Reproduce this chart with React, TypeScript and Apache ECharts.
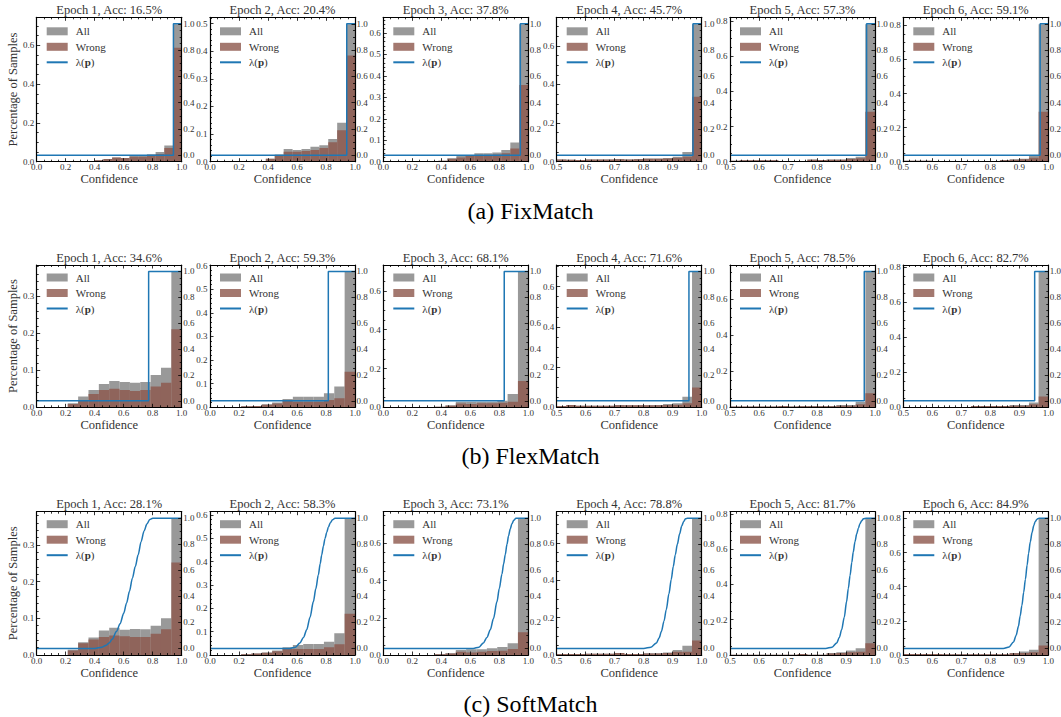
import React, { useEffect, useRef } from 'react';
import * as echarts from 'echarts';

// ---------------- data ----------------
const CAPTIONS = ['(a) FixMatch', '(b) FlexMatch', '(c) SoftMatch'];
const EPOCHS = [1, 2, 3, 4, 5, 6];
const FIX_ACC = [16.5, 20.4, 37.8, 45.7, 57.3, 59.1];
const FLEX_ACC = [34.6, 59.3, 68.1, 71.6, 78.5, 82.7];
const SOFT_ACC = [28.1, 58.3, 73.1, 78.8, 81.7, 84.9];

const X_MIN = [0, 0, 0, 0.5, 0.5, 0.5];
const X_STEP = [0.2, 0.2, 0.2, 0.1, 0.1, 0.1];
const RIGHT_TICKS = [0, 0.2, 0.4, 0.6, 0.8, 1.0];

// histogram bin widths (the last bin of every list ends at confidence 1.0)
const FIX_BIN_WIDTH = [0.06, 0.0615, 0.062, 1 / 30, 1 / 30, 1 / 30];
const FLEX_BIN_WIDTH = [1 / 14, 1 / 14, 1 / 14, 1 / 30, 1 / 30, 1 / 30];
const SOFT_BIN_WIDTH = [1 / 14, 1 / 14, 1 / 14, 1 / 30, 1 / 30, 1 / 30];

const FIX_Y_STEP = [0.2, 0.1, 0.1, 0.2, 0.2, 0.2];
const FLEX_Y_STEP = [0.1, 0.1, 0.2, 0.2, 0.2, 0.2];
const SOFT_Y_STEP = [0.1, 0.1, 0.2, 0.2, 0.2, 0.2];

const FIX_ALL = [
  [0.007, 0.014, 0.022, 0.019, 0.033, 0.033, 0.039, 0.05, 0.084, 0.709],
  [0.011, 0.026, 0.046, 0.042, 0.046, 0.054, 0.06, 0.082, 0.141, 0.498],
  [0.005, 0.016, 0.026, 0.031, 0.039, 0.039, 0.043, 0.054, 0.09, 0.641],
  [0.012, 0.01, 0.009, 0.012, 0.012, 0.012, 0.014, 0.012, 0.014, 0.017, 0.017, 0.019, 0.026, 0.05, 0.712],
  [0.006, 0.008, 0.008, 0.008, 0.008, 0.004, 0.004, 0.004, 0.013, 0.01, 0.013, 0.013, 0.021, 0.028, 0.782],
  [0.006, 0.006, 0.006, 0.002, 0.002, 0.002, 0.002, 0.002, 0.002, 0.002, 0.01, 0.014, 0.018, 0.039, 0.807],
];
const FIX_WRONG = [
  [0.007, 0.014, 0.022, 0.019, 0.026, 0.026, 0.034, 0.04, 0.07, 0.588],
  [0.011, 0.024, 0.036, 0.036, 0.039, 0.042, 0.05, 0.07, 0.114, 0.385],
  [0.005, 0.014, 0.02, 0.026, 0.029, 0.029, 0.034, 0.039, 0.062, 0.357],
  [0.012, 0.01, 0.009, 0.012, 0.012, 0.012, 0.013, 0.012, 0.013, 0.015, 0.015, 0.017, 0.021, 0.026, 0.336],
  [0.006, 0.008, 0.008, 0.008, 0.008, 0.004, 0.004, 0.004, 0.011, 0.009, 0.011, 0.011, 0.015, 0.019, 0.284],
  [0.006, 0.006, 0.006, 0.002, 0.002, 0.002, 0.002, 0.002, 0.002, 0.002, 0.009, 0.012, 0.015, 0.023, 0.293],
];

const FLEX_ALL = [
  [0.011, 0.029, 0.047, 0.063, 0.071, 0.068, 0.066, 0.068, 0.087, 0.107, 0.366],
  [0.004, 0.006, 0.013, 0.02, 0.035, 0.045, 0.045, 0.045, 0.059, 0.088, 0.574],
  [0.003, 0.01, 0.029, 0.029, 0.029, 0.029, 0.034, 0.069, 0.699],
  [0.007, 0.012, 0.008, 0.008, 0.008, 0.008, 0.012, 0.01, 0.01, 0.01, 0.012, 0.017, 0.02, 0.053, 0.674],
  [0.004, 0.004, 0.004, 0.004, 0.004, 0.007, 0.004, 0.007, 0.007, 0.007, 0.007, 0.013, 0.013, 0.031, 0.75],
  [0.002, 0.002, 0.002, 0.002, 0.002, 0.002, 0.002, 0.008, 0.008, 0.008, 0.008, 0.013, 0.013, 0.027, 0.774],
];
const FLEX_WRONG = [
  [0.009, 0.02, 0.036, 0.047, 0.05, 0.047, 0.044, 0.047, 0.056, 0.066, 0.211],
  [0.004, 0.006, 0.011, 0.016, 0.028, 0.024, 0.024, 0.024, 0.031, 0.038, 0.151],
  [0.003, 0.008, 0.019, 0.017, 0.021, 0.021, 0.024, 0.029, 0.136],
  [0.007, 0.012, 0.008, 0.008, 0.008, 0.008, 0.01, 0.01, 0.01, 0.01, 0.01, 0.012, 0.013, 0.02, 0.098],
  [0.004, 0.004, 0.004, 0.004, 0.004, 0.007, 0.004, 0.006, 0.006, 0.006, 0.006, 0.009, 0.009, 0.017, 0.078],
  [0.002, 0.002, 0.002, 0.002, 0.002, 0.002, 0.002, 0.007, 0.007, 0.007, 0.007, 0.009, 0.009, 0.017, 0.061],
];

const SOFT_ALL = [
  [0.014, 0.035, 0.048, 0.067, 0.074, 0.069, 0.071, 0.07, 0.08, 0.1, 0.372],
  [0.003, 0.006, 0.011, 0.019, 0.033, 0.043, 0.047, 0.047, 0.057, 0.093, 0.585],
  [0.004, 0.009, 0.027, 0.031, 0.031, 0.036, 0.043, 0.063, 0.734],
  [0.005, 0.005, 0.005, 0.007, 0.007, 0.007, 0.011, 0.005, 0.005, 0.009, 0.009, 0.014, 0.027, 0.05, 0.73],
  [0.002, 0.002, 0.002, 0.002, 0.002, 0.002, 0.002, 0.006, 0.002, 0.002, 0.011, 0.015, 0.025, 0.038, 0.774],
  [0.006, 0.006, 0.006, 0.006, 0.004, 0.004, 0.004, 0.004, 0.004, 0.004, 0.004, 0.012, 0.02, 0.031, 0.799],
];
const SOFT_WRONG = [
  [0.012, 0.032, 0.042, 0.049, 0.053, 0.051, 0.049, 0.049, 0.058, 0.07, 0.252],
  [0.003, 0.006, 0.01, 0.016, 0.026, 0.026, 0.026, 0.026, 0.033, 0.046, 0.177],
  [0.004, 0.008, 0.018, 0.014, 0.018, 0.022, 0.023, 0.032, 0.123],
  [0.005, 0.005, 0.005, 0.007, 0.007, 0.007, 0.011, 0.005, 0.005, 0.008, 0.008, 0.011, 0.018, 0.018, 0.077],
  [0.002, 0.002, 0.002, 0.002, 0.002, 0.002, 0.002, 0.006, 0.002, 0.002, 0.009, 0.011, 0.015, 0.019, 0.067],
  [0.006, 0.006, 0.006, 0.006, 0.004, 0.004, 0.004, 0.004, 0.004, 0.004, 0.004, 0.01, 0.012, 0.016, 0.055],
];

// thresholds where the step-shaped lambda(p) jumps from 0 to 1
const FIX_THRESHOLD = [0.943, 0.943, 0.945, 0.97, 0.971, 0.972];
const FLEX_THRESHOLD = [0.772, 0.816, 0.834, 0.956, 0.963, 0.953];

// SoftMatch lambda(p) curves: [confidence, lambda]
const SOFT_LAMBDA = [
  [[0, 0], [0.4, 0], [0.45, 0.01], [0.48, 0.025], [0.5, 0.043], [0.52, 0.07], [0.55, 0.13], [0.575, 0.19], [0.6, 0.27],
    [0.62, 0.35], [0.64, 0.44], [0.66, 0.54], [0.68, 0.63], [0.7, 0.72], [0.72, 0.82], [0.74, 0.9], [0.76, 0.955],
    [0.78, 0.99], [0.8, 1], [1, 1]],
  [[0, 0], [0.55, 0], [0.59, 0.01], [0.62, 0.043], [0.645, 0.085], [0.667, 0.144], [0.69, 0.24], [0.713, 0.36],
    [0.73, 0.46], [0.747, 0.564], [0.76, 0.65], [0.77, 0.716], [0.782, 0.785], [0.793, 0.843], [0.805, 0.89],
    [0.816, 0.93], [0.83, 0.965], [0.845, 0.988], [0.862, 1], [1, 1]],
  [[0, 0], [0.62, 0], [0.66, 0.01], [0.69, 0.043], [0.715, 0.085], [0.738, 0.144], [0.76, 0.23], [0.784, 0.36],
    [0.8, 0.46], [0.818, 0.57], [0.83, 0.65], [0.841, 0.72], [0.853, 0.8], [0.864, 0.865], [0.876, 0.92],
    [0.887, 0.957], [0.9, 0.985], [0.915, 1], [1, 1]],
  [[0.5, 0], [0.8, 0], [0.825, 0.01], [0.844, 0.043], [0.853, 0.08], [0.861, 0.13], [0.87, 0.21], [0.878, 0.3],
    [0.887, 0.42], [0.895, 0.53], [0.902, 0.63], [0.909, 0.72], [0.916, 0.8], [0.924, 0.88], [0.931, 0.94],
    [0.938, 0.975], [0.944, 0.995], [0.95, 1], [1, 1]],
  [[0.5, 0], [0.83, 0], [0.852, 0.01], [0.868, 0.043], [0.877, 0.085], [0.885, 0.144], [0.894, 0.24], [0.902, 0.36],
    [0.908, 0.46], [0.914, 0.56], [0.92, 0.66], [0.925, 0.74], [0.931, 0.82], [0.937, 0.88], [0.943, 0.925],
    [0.948, 0.957], [0.954, 0.98], [0.96, 0.995], [0.97, 1], [1, 1]],
  [[0.5, 0], [0.845, 0], [0.865, 0.012], [0.88, 0.05], [0.889, 0.1], [0.897, 0.17], [0.903, 0.25], [0.909, 0.33],
    [0.915, 0.43], [0.921, 0.53], [0.927, 0.64], [0.932, 0.73], [0.938, 0.82], [0.944, 0.89], [0.95, 0.945],
    [0.955, 0.975], [0.961, 0.993], [0.968, 1], [1, 1]],
];

// ---------------- layout & style ----------------
const COL_LEFT = [36.7, 210, 383.3, 556.7, 730, 903.3];
const PLOT_W = 145;
const ROW_TOP = [17.3, 265, 511.7];
const ROW_H = [144.4, 142.3, 143.3];
const CAPTION_Y = [211, 456, 704];

const FONT = 'Liberation Serif';
const TEXT_COLOR = '#333';
const ALL_COLOR = 'rgba(128,128,128,0.8)';
const WRONG_COLOR = 'rgba(140,86,75,0.8)';
const LINE_COLOR = '#1f77b4';
const LAMBDA = 'λ(p)';
const TICK_SIZE = 9;
const NAME_SIZE = 12.5;
const LEGEND_SIZE = 11;

const stepLine = (xmin: number, t: number) => [[xmin, 0], [t, 0], [t, 1], [1, 1]];

const ROWS = [
  { acc: FIX_ACC, binW: FIX_BIN_WIDTH, all: FIX_ALL, wrong: FIX_WRONG, yStep: FIX_Y_STEP,
    lambda: (c: number) => stepLine(X_MIN[c], FIX_THRESHOLD[c]), smooth: false },
  { acc: FLEX_ACC, binW: FLEX_BIN_WIDTH, all: FLEX_ALL, wrong: FLEX_WRONG, yStep: FLEX_Y_STEP,
    lambda: (c: number) => stepLine(X_MIN[c], FLEX_THRESHOLD[c]), smooth: false },
  { acc: SOFT_ACC, binW: SOFT_BIN_WIDTH, all: SOFT_ALL, wrong: SOFT_WRONG, yStep: SOFT_Y_STEP,
    lambda: (c: number) => SOFT_LAMBDA[c], smooth: true },
];

const toBins = (vals: number[], w: number) =>
  vals.map((v, i) => {
    const x0 = 1 - (vals.length - i) * w;
    return [x0, x0 + w, v];
  });

const makeRender = (color: string) => (params: any, api: any) => {
  const x0 = api.value(0);
  const x1 = api.value(1);
  const v = api.value(2);
  const p0 = api.coord([x0, v]);
  const p1 = api.coord([x1, 0]);
  return {
    type: 'rect',
    shape: { x: p0[0], y: p0[1], width: p1[0] - p0[0], height: p1[1] - p0[1] },
    style: { fill: color },
  };
};

const fmt = (v: number) => (Math.abs(v) < 1e-9 ? 0 : v).toFixed(1);

const MINOR_RIGHT: number[] = [];
for (let i = 1; i < 20; i++) if (i % 4 !== 0) MINOR_RIGHT.push(+(i * 0.05).toFixed(2));

const tickLine = { color: '#000', width: 0.8 };
const frameLine = { show: true, onZero: false, lineStyle: { color: '#000', width: 1.2 } };
const labelStyle = { fontSize: TICK_SIZE, fontFamily: FONT, color: TEXT_COLOR };
const nameStyle = { fontSize: NAME_SIZE, fontFamily: FONT, color: TEXT_COLOR };

function buildOption() {
  const grid: any[] = [];
  const xAxis: any[] = [];
  const yAxis: any[] = [];
  const series: any[] = [];
  const legend: any[] = [];
  const graphic: any[] = [];

  ROWS.forEach((row, r) => {
    for (let c = 0; c < 6; c++) {
      const k = r * 6 + c;
      const left = COL_LEFT[c];
      const top = ROW_TOP[r];
      const h = ROW_H[r];
      grid.push({ left, top, width: PLOT_W, height: h, containLabel: false, outerBoundsMode: 'none' });

      const xMinor = { show: true, splitNumber: X_STEP[c] === 0.2 ? 4 : 5, length: 2, lineStyle: tickLine };
      xAxis.push({
        type: 'value', gridIndex: k, position: 'bottom', min: X_MIN[c], max: 1, interval: X_STEP[c],
        axisLine: frameLine, axisTick: { show: true, inside: true, length: 3.5, lineStyle: tickLine },
        minorTick: xMinor, splitLine: { show: false }, minorSplitLine: { show: false },
        axisLabel: { ...labelStyle, margin: 1, formatter: fmt },
        name: 'Confidence', nameLocation: 'middle', nameGap: 11, nameTextStyle: nameStyle, z: 5,
      });
      xAxis.push({
        type: 'value', gridIndex: k, position: 'top', min: X_MIN[c], max: 1, interval: X_STEP[c],
        axisLine: frameLine, axisTick: { show: true, inside: true, length: 3.5, lineStyle: tickLine },
        minorTick: xMinor, splitLine: { show: false }, axisLabel: { show: false }, z: 5,
      });

      const step = row.yStep[c];
      const yMax = Math.max(...row.all[c]) * 1.05;
      yAxis.push({
        type: 'value', gridIndex: k, position: 'left', min: 0, max: yMax, interval: step,
        axisLine: frameLine, axisTick: { show: true, inside: true, length: 3.5, lineStyle: tickLine },
        minorTick: { show: true, splitNumber: step === 0.2 ? 4 : 5, length: 2, lineStyle: tickLine },
        splitLine: { show: false }, minorSplitLine: { show: false },
        axisLabel: {
          ...labelStyle, margin: 2.5,
          formatter: (v: number) => {
            const q = v / step;
            return Math.abs(q - Math.round(q)) < 1e-6 ? fmt(v) : '';
          },
        },
        name: c === 0 ? 'Percentage of Samples' : '', nameLocation: 'middle', nameGap: 16,
        nameTextStyle: nameStyle, z: 5,
      });
      yAxis.push({
        type: 'value', gridIndex: k, position: 'right', min: -0.05, max: 1.05,
        axisLine: frameLine,
        axisTick: { show: true, inside: true, length: 3.5, lineStyle: tickLine, customValues: RIGHT_TICKS },
        splitLine: { show: false },
        axisLabel: { ...labelStyle, margin: 1.5, customValues: RIGHT_TICKS, formatter: fmt }, z: 5,
      });
      yAxis.push({
        type: 'value', gridIndex: k, position: 'right', min: -0.05, max: 1.05,
        axisLine: { show: false, onZero: false },
        axisTick: { show: true, inside: true, length: 2, lineStyle: tickLine, customValues: MINOR_RIGHT },
        splitLine: { show: false }, axisLabel: { show: false }, z: 5,
      });

      const xi = 2 * k;
      const yi = 3 * k;
      series.push({
        type: 'custom', name: 'All', xAxisIndex: xi, yAxisIndex: yi, clip: true, silent: true,
        encode: { x: [0, 1], y: 2 }, itemStyle: { color: ALL_COLOR },
        renderItem: makeRender(ALL_COLOR), data: toBins(row.all[c], row.binW[c]),
      });
      series.push({
        type: 'custom', name: 'Wrong', xAxisIndex: xi, yAxisIndex: yi, clip: true, silent: true,
        encode: { x: [0, 1], y: 2 }, itemStyle: { color: WRONG_COLOR },
        renderItem: makeRender(WRONG_COLOR), data: toBins(row.wrong[c], row.binW[c]),
      });
      series.push({
        type: 'line', name: LAMBDA, xAxisIndex: xi, yAxisIndex: yi + 1, silent: true,
        symbol: 'none', showSymbol: false, data: row.lambda(c),
        smooth: row.smooth ? 0.3 : false, smoothMonotone: 'x',
        lineStyle: { color: LINE_COLOR, width: 1.5 }, itemStyle: { color: LINE_COLOR }, z: 3,
      });

      legend.push({
        left: left + 9, top: top + (r === 0 ? 7.5 : 6), orient: 'vertical', padding: 0, itemGap: 2.5,
        itemWidth: 21, itemHeight: 8, selectedMode: false,
        data: [
          { name: 'All', icon: 'rect' },
          { name: 'Wrong', icon: 'rect' },
          { name: LAMBDA, itemStyle: { color: 'rgba(0,0,0,0)', borderColor: 'rgba(0,0,0,0)', borderWidth: 0, opacity: 0 } },
        ],
        formatter: (name: string) => (name === LAMBDA ? '{n|λ(}{b|p}{n|)}' : name),
        textStyle: {
          fontFamily: FONT, fontSize: LEGEND_SIZE, color: TEXT_COLOR, lineHeight: 13, padding: [0, 0, 0, 3],
          rich: {
            n: { fontFamily: FONT, fontSize: LEGEND_SIZE, color: TEXT_COLOR },
            b: { fontFamily: FONT, fontSize: LEGEND_SIZE, color: TEXT_COLOR, fontWeight: 'bold' },
          },
        },
      });

      graphic.push({
        type: 'text', x: left + PLOT_W / 2, y: top - 7.5, silent: true,
        style: {
          text: `Epoch ${EPOCHS[c]}, Acc: ${row.acc[c].toFixed(1)}%`,
          fontSize: NAME_SIZE, fontFamily: FONT, fill: TEXT_COLOR,
          align: 'center', verticalAlign: 'middle', textAlign: 'center', textVerticalAlign: 'middle',
        },
      });
    }
    graphic.push({
      type: 'text', x: 530.5, y: CAPTION_Y[r], silent: true,
      style: {
        text: CAPTIONS[r], fontSize: 24, fontFamily: FONT, fill: '#000',
        align: 'center', verticalAlign: 'middle', textAlign: 'center', textVerticalAlign: 'middle',
      },
    });
  });

  return { animation: false, backgroundColor: '#fff', grid, xAxis, yAxis, series, legend, graphic };
}

export default function App() {
  const ref = useRef<HTMLDivElement>(null);
  useEffect(() => {
    if (!ref.current) return;
    const chart = echarts.init(ref.current, null, { renderer: 'svg' });
    chart.setOption(buildOption() as any);
    return () => chart.dispose();
  }, []);
  return (
    <div
      ref={ref}
      style={{ position: 'fixed', left: 0, top: 0, width: 1061, height: 717, background: '#fff' }}
    />
  );
}
